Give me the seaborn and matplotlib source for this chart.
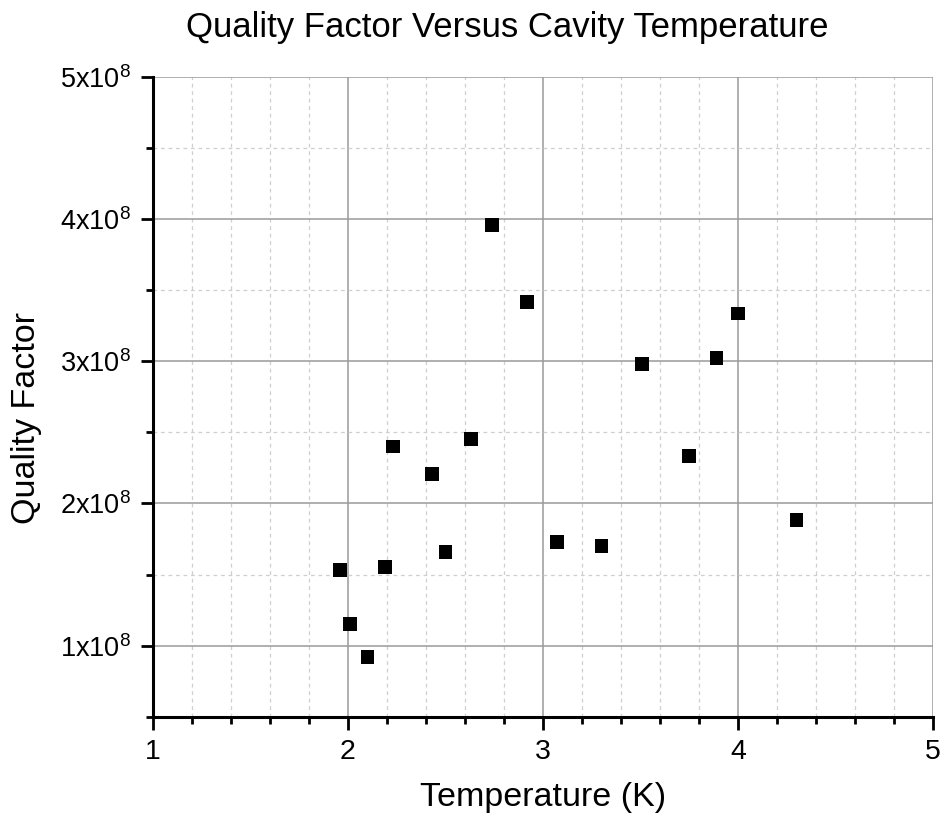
import matplotlib
matplotlib.use("Agg")
import matplotlib.pyplot as plt
from matplotlib.ticker import MultipleLocator, FixedLocator, FuncFormatter
import seaborn as sns
import pandas as pd

# Measured cavity temperature (K) and quality factor
temperature = [1.96, 2.01, 2.10, 2.19, 2.23, 2.43, 2.50, 2.63, 2.74, 2.92,
               3.07, 3.30, 3.51, 3.75, 3.89, 4.00, 4.30]
quality_factor = [1.535e8, 1.153e8, 0.923e8, 1.552e8, 2.401e8, 2.209e8, 1.657e8,
                  2.451e8, 3.958e8, 3.418e8, 1.732e8, 1.700e8, 2.979e8, 2.331e8,
                  3.026e8, 3.336e8, 1.885e8]

x_ticks = [1, 2, 3, 4, 5]
y_ticks = [1e8, 2e8, 3e8, 4e8, 5e8]

df = pd.DataFrame({"Temperature (K)": temperature, "Quality Factor": quality_factor})

sns.set_theme(style="white")
plt.rcParams["font.family"] = ["Liberation Sans", "DejaVu Sans"]
plt.rcParams["mathtext.fontset"] = "custom"
plt.rcParams["mathtext.rm"] = "Liberation Sans"

fig = plt.figure(figsize=(9.43, 8.24), dpi=100)
ax = fig.add_axes([0.1622, 0.1302, 0.8272, 0.7764])

sns.scatterplot(data=df, x="Temperature (K)", y="Quality Factor", marker="s",
                s=100, color="black", edgecolor="none", linewidth=0, ax=ax,
                zorder=5, clip_on=False)

ax.set_xlim(1, 5)
ax.set_ylim(0.5e8, 5e8)

ax.xaxis.set_major_locator(FixedLocator(x_ticks))
ax.xaxis.set_minor_locator(MultipleLocator(0.2))
ax.yaxis.set_major_locator(FixedLocator(y_ticks))
ax.yaxis.set_minor_locator(MultipleLocator(0.5e8))

ax.xaxis.set_major_formatter(FuncFormatter(lambda v, p: f"{v:g}"))
ax.yaxis.set_major_formatter(
    FuncFormatter(lambda v, p: r"$\mathregular{%dx10^{8}}$" % round(v / 1e8)))

ax.grid(which="major", color="#9a9a9a", linewidth=1.1, linestyle="-")
ax.grid(which="minor", color="#cfcfcf", linewidth=0.9, linestyle=(0, (3, 3)))
ax.set_axisbelow(True)

for side in ("top", "right"):
    ax.spines[side].set_visible(False)
for side in ("left", "bottom"):
    ax.spines[side].set_color("black")
    ax.spines[side].set_linewidth(2.2)

ax.tick_params(which="major", direction="out", length=9, width=2, color="black",
               labelcolor="black", left=True, bottom=True, pad=7)
ax.tick_params(which="minor", direction="out", length=5, width=2, color="black",
               left=True, bottom=True)
ax.tick_params(axis="x", which="major", labelsize=20.5)
ax.tick_params(axis="y", which="major", labelsize=19.5)

ax.set_xlabel("Temperature (K)", fontsize=24.5, color="black")
ax.set_ylabel("Quality Factor", fontsize=24.5, color="black")
ax.xaxis.label.set_verticalalignment("center")
ax.yaxis.label.set_verticalalignment("center")
ax.yaxis.label.set_horizontalalignment("center")
ax.xaxis.set_label_coords(0.5, -0.1255)
ax.yaxis.set_label_coords(-0.162, 0.467)

fig.text(0.538, 1 - 28 / 824, "Quality Factor Versus Cavity Temperature",
         fontsize=25, ha="center", va="center", color="black")

fig.savefig("out.png", dpi=100, facecolor="white")
